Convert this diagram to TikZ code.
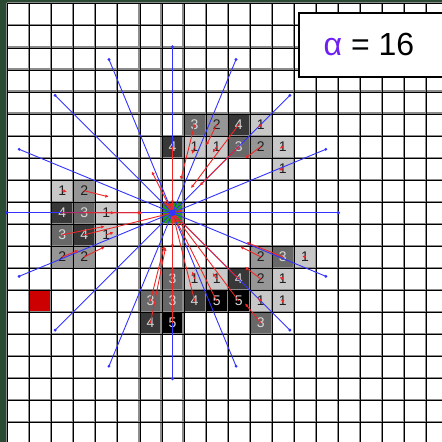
\documentclass[tikz,border=0pt]{standalone}
\usepackage{fontspec}
\setmainfont{Liberation Sans}
\usetikzlibrary{calc,arrows.meta}
\definecolor{frame}{HTML}{2A4A34}
\definecolor{gridgray}{HTML}{8C8C8C}
\definecolor{rayblue}{rgb}{0.2,0.2,1}
\definecolor{arrred}{rgb}{0.95,0.15,0.15}
\definecolor{alphapurple}{rgb}{0.43,0.12,0.95}
\definecolor{centergreen}{HTML}{1E9E1E}
\definecolor{hotred}{HTML}{CC0000}
\begin{document}
\begin{tikzpicture}[x=1pt,y=-1pt,
  fill1/.style={fill={rgb,255:red,200;green,200;blue,200}},
  fill2/.style={fill={rgb,255:red,150;green,150;blue,150}},
  fill3/.style={fill={rgb,255:red,104;green,104;blue,104}},
  fill4/.style={fill={rgb,255:red,56;green,56;blue,56}},
  fill5/.style={fill=black},
  numbase/.style={font=\fontsize{14}{14}\selectfont, inner sep=0pt},
  txt1/.style={numbase, text=black!88},
  txt2/.style={numbase, text=black!88},
  txt3/.style={numbase, text=white!85!black},
  txt4/.style={numbase, text=white!85!black},
  txt5/.style={numbase, text=white!85!black},
  ray/.style={draw=rayblue, line width=0.9pt},
  raydot/.style={fill=rayblue},
  pull/.style={draw=arrred, line width=0.9pt, -{Latex[length=3.5pt,width=3.5pt]}},
  gridhalo/.style={draw=gridgray, line width=2.2pt},
  gridcore/.style={draw=black, line width=1.0pt},
]
\useasboundingbox (0,0) rectangle (442,442);
\clip (0,0) rectangle (442,442);
\def\cells{8/5/3/56.9, 9/5/2/23.2, 10/5/4/79.5, 11/5/1/3.9, 7/6/4/129.1, 8/6/1/7.8, 9/6/1/7.1, 10/6/3/55.2, 11/6/2/19.8, 12/6/1/3.7, 12/7/1/4.4,
 2/8/1/4.8, 3/8/2/25.3, 2/9/4/79.3, 3/9/3/58.6, 4/9/1/8.1, 2/10/3/43.3, 3/10/4/101.2, 4/10/1/7.8, 2/11/2/17.5, 3/11/2/23.1,
 11/11/2/23.1, 12/11/3/39.3, 13/11/1/2.9, 7/12/3/72.7, 8/12/1/7.8, 9/12/1/7.1, 10/12/4/98.3, 11/12/2/19.9, 12/12/1/3.7,
 6/13/3/57.0, 7/13/3/58.7, 8/13/4/101.4, 9/13/5/144.9, 10/13/5/124.3, 11/13/1/4.0, 12/13/1/2.8, 6/14/4/77.2, 7/14/5/124.5, 11/14/3/25.2}
% background and frame
\fill[white] (0,0) rectangle (442,442);
\fill[frame] (0,0) rectangle (7,442);
\fill[frame] (0,0) rectangle (442,3.3);
% cells
\foreach \c/\r/\v/\L in \cells {
  \fill[fill\v] ({7+22.07*\c},{3.3+22.05*\r}) rectangle ++(22.07,22.05);
}
\fill[hotred] ({7+22.07*1},{3.3+22.05*13}) rectangle ++(22.07,22.05);
\fill[centergreen] ({7+22.07*7},{3.3+22.05*9}) rectangle ++(22.07,22.05);
% grid
\foreach \k in {0,...,19} {
  \draw[gridhalo] ({7+22.07*\k},3.3) -- ({7+22.07*\k},442);
  \draw[gridhalo] (7,{3.3+22.05*\k}) -- (442,{3.3+22.05*\k});
}
\foreach \k in {0,...,19} {
  \draw[gridcore] ({7.6+22.07*\k},3.3) -- ({7.6+22.07*\k},442);
  \draw[gridcore] (7,{3.9+22.05*\k}) -- (442,{3.9+22.05*\k});
}
% numbers
\foreach \c/\r/\v/\L in \cells {
  \node[txt\v] (n\c-\r) at ({18.035+22.07*\c},{14.325+22.05*\r}) {\v};
}
\coordinate (ctr) at (172.5,212.8);
% blue rays
\foreach \a [count=\i] in {0,22.5,...,337.5} {
  \coordinate (ray\i) at ($(ctr)+(\a:166pt)$);
  \draw[ray] (ctr) -- (ray\i);
  \fill[raydot] (ray\i) circle (1.6pt);
}
% red pulls
\foreach \c/\r/\v/\L in \cells {
  \draw[pull] (n\c-\r.center) -- ($(n\c-\r.center)!\L pt!(ctr)$);
}
\fill[rayblue] (ctr) circle (3.3pt);
% label box
\node[draw=black, line width=2pt, fill=white, anchor=north west, inner sep=0pt,
      minimum width=150pt, minimum height=64.5pt] (box) at (297.5,11.5) {};
\node[anchor=base, inner sep=0pt, font=\fontsize{32}{32}\selectfont] (lbl) at (369,55)
  {\textcolor{alphapurple}{α} = 16};
\end{tikzpicture}
\end{document}
